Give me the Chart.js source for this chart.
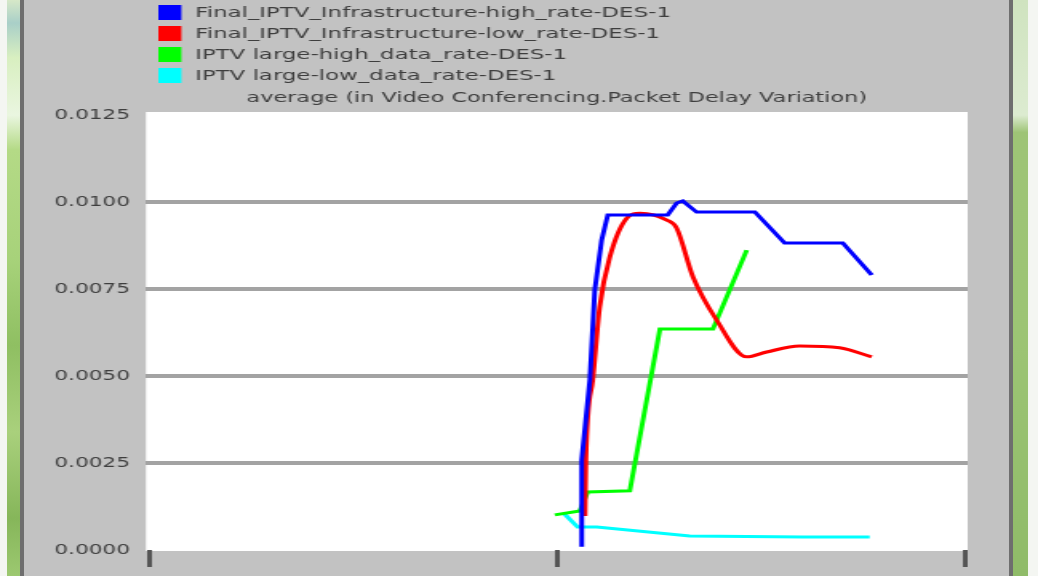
<!DOCTYPE html>
<html>
<head>
<meta charset="utf-8">
<script src="https://cdn.jsdelivr.net/npm/chart.js@4.4.1/dist/chart.umd.min.js"></script>
<style>
  html, body { margin: 0; padding: 0; }
  body { width: 1038px; height: 576px; background: #c2c2c2; position: relative; overflow: hidden; }
  #wrap { position: absolute; left: 0; top: 0; width: 649px; height: 576px; transform-origin: 0 0; transform: scale(1.5994, 1); filter: blur(0.45px); }
  .deco { position: absolute; top: 0; height: 576px; }
</style>
</head>
<body>
<div id="wrap"><canvas id="c" width="649" height="576"></canvas></div>
<div class="deco" style="left:0;width:7px;background:#f4f6f2"></div>
<div class="deco" style="left:7px;width:13px;background:linear-gradient(180deg,#d6e8c8 0%,#a9cfc8 4%,#d8efc0 10%,#eaf6e0 20%,#b4da86 26%,#a7d27a 45%,#8fbf62 60%,#a9d07c 75%,#86b65a 90%,#9cc870 100%)"></div>
<div class="deco" style="left:20px;width:4px;background:#6e6e6e"></div>
<div class="deco" style="left:1009px;width:4px;background:#6e6e6e"></div>
<div class="deco" style="left:1013px;width:15px;background:linear-gradient(180deg,#cfe3bf 0%,#dcebd0 20%,#9ec476 23%,#9cc474 60%,#8fbb68 100%)"></div>
<div class="deco" style="left:1028px;width:10px;background:#f4f6f2"></div>
<script>
// ---- data (x: time axis units, y: seconds) ----
const seriesLabels = [
  "Final_IPTV_Infrastructure-high_rate-DES-1",
  "Final_IPTV_Infrastructure-low_rate-DES-1",
  "IPTV large-high_data_rate-DES-1",
  "IPTV large-low_data_rate-DES-1"
];
const chartTitle = "average (in Video Conferencing.Packet Delay Variation)";

const blueT = [1.060, 1.060, 1.080, 1.092, 1.109, 1.124, 1.271, 1.293, 1.308, 1.342, 1.485, 1.558, 1.701, 1.772];
const blueV = [0.00009, 0.00259, 0.00489, 0.00747, 0.00891, 0.00963, 0.00963, 0.00997, 0.01003, 0.00971, 0.00971, 0.00882, 0.00882, 0.00790];

const redT = [1.068, 1.070, 1.087, 1.104, 1.129, 1.171, 1.203, 1.269, 1.293, 1.333, 1.391, 1.465, 1.514, 1.595, 1.693, 1.772];
const redV = [0.00098, 0.00259, 0.00489, 0.00698, 0.00842, 0.00954, 0.00968, 0.00948, 0.00925, 0.00785, 0.00661, 0.00555, 0.00569, 0.00586, 0.00581, 0.00555];

const greenT = [0.994, 1.055, 1.075, 1.178, 1.252, 1.382, 1.465];
const greenV = [0.00101, 0.00112, 0.00167, 0.00170, 0.00635, 0.00635, 0.00862];

const cyanT = [1.018, 1.050, 1.097, 1.325, 1.603, 1.767];
const cyanV = [0.00103, 0.00066, 0.00066, 0.00040, 0.00037, 0.00037];

const xTickValues = [0, 1, 2];
const yTickStep = 0.0025;
const yMin = 0, yMax = 0.0125;
const xMin = -0.01, xMax = 2.0075;

const colors = ["#0000ff", "#ff0000", "#00ff00", "#00ffff"];

function pts(t, v) { return t.map((x, i) => ({ x: x, y: v[i] })); }

const TEXT_COLOR = "#3e3e3e";
const FONT = '"DejaVu Sans", Verdana, sans-serif';

const decorPlugin = {
  id: 'decor',
  beforeDraw(chart) {
    const { ctx, chartArea: a } = chart;
    ctx.save();
    ctx.fillStyle = "#ffffff";
    ctx.fillRect(a.left, a.top - 3, a.right - a.left, a.bottom - a.top + 4);
    ctx.restore();
  },
  afterDraw(chart) {
    const { ctx, chartArea: a } = chart;
    ctx.save();
    ctx.font = "14.3px " + FONT;
    ctx.textBaseline = "middle";
    ctx.textAlign = "left";
    chart.data.datasets.forEach((ds, i) => {
      const y = 5 + i * 21;
      ctx.fillStyle = ds.borderColor;
      ctx.fillRect(99, y, 14.4, 15);
      ctx.fillStyle = TEXT_COLOR;
      ctx.fillText(ds.label, 122, y + 8);
    });
    ctx.font = "14px " + FONT;
    ctx.textAlign = "center";
    ctx.fillText(chartTitle, (a.left + a.right) / 2, 98);
    ctx.restore();
  }
};

new Chart(document.getElementById('c'), {
  type: 'line',
  data: {
    datasets: [
      { label: seriesLabels[0], data: pts(blueT, blueV), borderColor: colors[0], backgroundColor: colors[0] },
      { label: seriesLabels[1], data: pts(redT, redV), borderColor: colors[1], backgroundColor: colors[1], cubicInterpolationMode: 'monotone' },
      { label: seriesLabels[2], data: pts(greenT, greenV), borderColor: colors[2], backgroundColor: colors[2] },
      { label: seriesLabels[3], data: pts(cyanT, cyanV), borderColor: colors[3], backgroundColor: colors[3] }
    ]
  },
  options: {
    responsive: false,
    animation: false,
    devicePixelRatio: 1,
    elements: { point: { radius: 0 }, line: { borderWidth: 3, tension: 0 } },
    layout: { padding: { top: 115, right: 44, bottom: 0, left: 0 } },
    plugins: { legend: { display: false }, tooltip: { enabled: false }, title: { display: false } },
    scales: {
      x: {
        type: 'linear', min: xMin, max: xMax,
        afterBuildTicks: (s) => { s.ticks = xTickValues.map(v => ({ value: v })); },
        afterFit: (s) => { s.height = 26; },
        ticks: { display: false },
        border: { display: false },
        grid: { drawOnChartArea: false, drawTicks: true, tickLength: 17, tickColor: '#555555', tickWidth: 3 }
      },
      y: {
        type: 'linear', min: yMin, max: yMax,
        afterFit: (s) => { s.width = 91.25; },
        ticks: {
          stepSize: yTickStep, padding: 10, color: TEXT_COLOR,
          font: { family: FONT, size: 13.5 },
          callback: (v) => Number(v).toFixed(4)
        },
        border: { display: false },
        grid: {
          drawTicks: false, lineWidth: 4,
          color: (c) => (c.tick && (Math.abs(c.tick.value - yMin) < 1e-9 || Math.abs(c.tick.value - yMax) < 1e-9)) ? 'rgba(0,0,0,0)' : '#a3a3a3'
        }
      }
    }
  },
  plugins: [decorPlugin]
});
</script>
</body>
</html>
